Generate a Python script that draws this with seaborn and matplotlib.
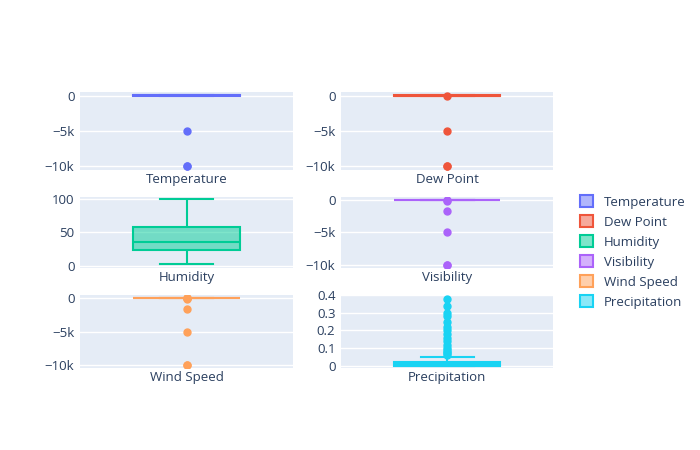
import matplotlib
matplotlib.use("Agg")
import matplotlib.pyplot as plt
import seaborn as sns
import pandas as pd
from matplotlib.colors import to_rgba
from matplotlib.patches import Patch
from matplotlib.ticker import FuncFormatter

plt.rcParams['font.family'] = ['Open Sans', 'DejaVu Sans']

# Valores (puntos representativos de cada distribución)
nucleo_temp = [-20, -15, -10, -5, -2, 0, 2, 5, 8, 10, 12, 15, 18, 20, 22, 25, 28, 30, 32, 35]
temperatura = nucleo_temp + [-5000, -9999, -9999]
nucleo_rocio = [-30, -25, -20, -15, -10, -8, -5, -2, 0, 2, 4, 6, 8, 10, 12, 15, 18, 20]
punto_rocio = nucleo_rocio + [-80, -5000, -9999, -9999]
humedad = [3, 6, 9, 12, 15, 17, 18, 18, 19, 20, 21, 22, 23, 24, 25, 26, 27, 28, 29, 30,
           30, 31, 32, 33, 34, 35, 36, 37, 38, 39, 40, 41, 42, 43, 44, 45, 45, 47, 50,
           55, 60, 65, 70, 75, 80, 84, 86, 88, 90, 92, 94, 96, 98, 100]
nucleo_vis = [6, 7, 8, 8, 9, 9, 10, 10, 10, 10, 10, 10, 10, 10, 11, 12, 12, 13, 14, 15]
visibilidad = nucleo_vis + [-100, -1600, -5000, -9999, -9999]
nucleo_viento = [2, 4, 5, 6, 7, 8, 9, 10, 10, 11, 12, 13, 14, 15, 16, 18, 20, 22, 25]
viento = nucleo_viento + [-60, 60, 80, 100, -1600, -5000, -9999, -9999]
precipitacion = ([0] * 40 + [0.01] * 12 + [0.02] * 10 + [0.03, 0.04, 0.045] +
                 [0.05, 0.06, 0.07, 0.08, 0.09, 0.1, 0.12, 0.14, 0.16, 0.18, 0.2,
                  0.22, 0.25, 0.28, 0.3, 0.34, 0.38])

nombres = ["Temperature", "Dew Point", "Humidity", "Visibility", "Wind Speed", "Precipitation"]
series = [temperatura, punto_rocio, humedad, visibilidad, viento, precipitacion]
colores = ["#636EFA", "#EF553B", "#00CC96", "#AB63FA", "#FFA15A", "#19D3F3"]

W, H = 700, 450
fig = plt.figure(figsize=(7, 4.5), dpi=100)
filas = [(92, 170), (197, 268), (295, 368)]
cols = [(80, 293), (341, 553)]

def fmt_k(v, pos):
    if abs(v) >= 1000:
        return f"{v/1000:g}k".replace("-", "\u2212")
    return f"{v:g}".replace("-", "\u2212")

for i, (nombre, vals, c) in enumerate(zip(nombres, series, colores)):
    (y0, y1), (x0, x1) = filas[i // 2], cols[i % 2]
    ax = fig.add_axes([x0 / W, 1 - y1 / H, (x1 - x0) / W, (y1 - y0) / H])
    ax.set_facecolor("#E5ECF6")
    df = pd.DataFrame({"var": nombre, "valor": vals})
    sns.boxplot(data=df, x="var", y="valor", ax=ax, width=0.5, whis=1.5,
                boxprops=dict(facecolor=to_rgba(c, 0.5), edgecolor=c, linewidth=1.5),
                whiskerprops=dict(color=c, linewidth=1.5),
                capprops=dict(color=c, linewidth=1.5),
                medianprops=dict(color=c, linewidth=1.5),
                flierprops=dict(marker="o", markerfacecolor=c, markeredgecolor=c,
                                markersize=5))
    ax.set_xlim(-0.5, 0.5)
    ax.set_xlabel("")
    ax.set_ylabel("")
    for s in ax.spines.values():
        s.set_visible(False)
    ax.grid(axis="y", color="white", linewidth=1)
    ax.set_axisbelow(True)
    ax.tick_params(length=0, labelsize=9.5, colors="#2a3f5f", pad=4)
    if nombre == "Humidity":
        ax.set_ylim(-3, 103)
        ax.set_yticks([0, 50, 100])
    elif nombre == "Precipitation":
        ax.set_ylim(-0.012, 0.4)
        ax.set_yticks([0, 0.1, 0.2, 0.3, 0.4])
        ax.yaxis.set_major_formatter(FuncFormatter(lambda v, p: f"{v:g}"))
    else:
        ax.set_ylim(-10500, 500)
        ax.set_yticks([-10000, -5000, 0])
        ax.yaxis.set_major_formatter(FuncFormatter(fmt_k))
    ax.xaxis.set_tick_params(pad=2)

handles = [Patch(facecolor=to_rgba(c, 0.5), edgecolor=c, linewidth=1.5, label=n)
           for n, c in zip(nombres, colores)]
fig.legend(handles=handles, loc="upper left", bbox_to_anchor=(575 / W, 1 - 190 / H),
           frameon=False, fontsize=9.5, handlelength=1.0, handleheight=1.0,
           labelcolor="#2a3f5f", borderaxespad=0, labelspacing=0.5)

fig.savefig("out.png", dpi=100)
